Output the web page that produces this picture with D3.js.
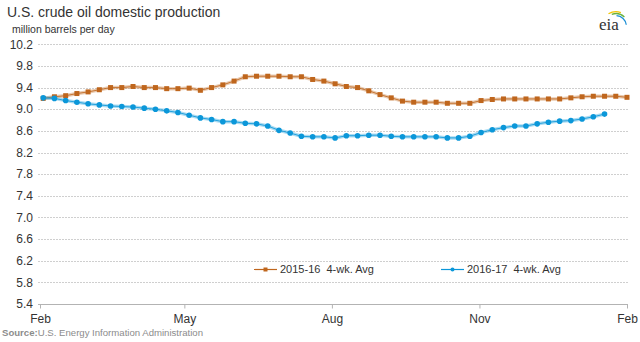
<!DOCTYPE html>
<html>
<head>
<meta charset="utf-8">
<script src="https://cdn.jsdelivr.net/npm/d3@7"></script>
<style>
    html, body { margin: 0; padding: 0; background: #fff; }
    svg { display: block; font-family: "Liberation Sans", Arial, sans-serif; }
</style>
</head>
<body>
<div id="chart"></div>
<script>
// weekly 4-week averages, million barrels per day, first week in early Feb
var prodPrev = [
    9.20, 9.23, 9.25, 9.29, 9.32, 9.36, 9.40, 9.40, 9.42, 9.40,
    9.40, 9.38, 9.38, 9.39, 9.35, 9.40, 9.45, 9.52, 9.60, 9.61,
    9.61, 9.61, 9.60, 9.60, 9.55, 9.52, 9.47, 9.42, 9.40, 9.34,
    9.27, 9.21, 9.15, 9.13, 9.13, 9.13, 9.11, 9.11, 9.11, 9.16,
    9.18, 9.19, 9.19, 9.19, 9.19, 9.19, 9.19, 9.21, 9.23, 9.24,
    9.24, 9.24, 9.22
];
var prodCurr = [
    9.21, 9.20, 9.16, 9.13, 9.10, 9.08, 9.06, 9.05, 9.04, 9.02,
    9.00, 8.97, 8.94, 8.89, 8.84, 8.81, 8.77, 8.77, 8.74, 8.73,
    8.69, 8.61, 8.56, 8.50, 8.49, 8.49, 8.47, 8.51, 8.51, 8.52,
    8.52, 8.50, 8.49, 8.49, 8.49, 8.49, 8.47, 8.47, 8.50, 8.57,
    8.62, 8.66, 8.69, 8.69, 8.73, 8.76, 8.78, 8.79, 8.82, 8.86,
    8.91
];
var seriesNames = ["2015-16  4-wk. Avg", "2016-17  4-wk. Avg"];
var yTicks = [5.4, 5.8, 6.2, 6.6, 7.0, 7.4, 7.8, 8.2, 8.6, 9.0, 9.4, 9.8, 10.2];
var monthTicks = ["2016-02-01", "2016-05-01", "2016-08-01", "2016-11-01", "2017-02-01"];
var firstWeek = "2016-02-03";

var width = 640;
var height = 342;
var color_prev = "#bf661d";
var color_curr = "#0b97d9";

var parseDay = d3.timeParse("%Y-%m-%d");
var weekDate = function (i) {
    return d3.timeDay.offset(parseDay(firstWeek), 7 * i);
}

var x = d3.scaleTime()
    .domain([parseDay(monthTicks[0]), parseDay(monthTicks[monthTicks.length - 1])])
    .range([40, 627]);
var y = d3.scaleLinear()
    .domain([5.4, 10.2])
    .range([304, 44.3]);

var svg = d3.select("#chart").append("svg")
    .attr("width", width)
    .attr("height", height);

// title block
svg.append("text")
    .attr("x", 7)
    .attr("y", 17)
    .attr("font-size", "14px")
    .attr("fill", "#333")
    .text("U.S. crude oil domestic production");
svg.append("text")
    .attr("x", 12)
    .attr("y", 33)
    .attr("font-size", "10.5px")
    .attr("fill", "#333")
    .text("million barrels per day");

// gridlines + y labels
var grid = svg.append("g");
yTicks.forEach(function (t) {
    if (t > 5.4) {
        grid.append("line")
            .attr("x1", 38)
            .attr("x2", 628)
            .attr("y1", Math.round(y(t)) + 0.5)
            .attr("y2", Math.round(y(t)) + 0.5)
            .attr("stroke", "#cfcfcf")
            .attr("stroke-dasharray", "2,1")
            .attr("stroke-width", 1);
    }
    grid.append("text")
        .attr("x", 33)
        .attr("y", y(t))
        .attr("dy", "0.35em")
        .attr("text-anchor", "end")
        .attr("font-size", "12px")
        .attr("fill", "#333")
        .text(t.toFixed(1));
});

// x axis
var xAxis = d3.axisBottom(x)
    .tickValues(monthTicks.map(parseDay))
    .tickFormat(d3.timeFormat("%b"))
    .tickSize(4)
    .tickPadding(6);
var axisG = svg.append("g")
    .attr("transform", "translate(0," + 304.5 + ")")
    .call(xAxis);
axisG.select(".domain").attr("stroke", "#b3b3b3").attr("d", "M38,0H628");
axisG.selectAll(".tick line").attr("stroke", "#b3b3b3");
axisG.selectAll(".tick text")
    .attr("font-size", "12px")
    .attr("fill", "#333")
    .attr("font-family", "Liberation Sans, Arial, sans-serif");

// series
var line = d3.line()
    .x(function (d, i) { return x(weekDate(i)); })
    .y(function (d) { return y(d); });

function drawSeries(values, color, shape) {
    var g = svg.append("g");
    g.append("path")
        .datum(values)
        .attr("d", line)
        .attr("fill", "none")
        .attr("stroke", color)
        .attr("stroke-opacity", 0.35)
        .attr("stroke-width", 3.5);
    g.append("path")
        .datum(values)
        .attr("d", line)
        .attr("fill", "none")
        .attr("stroke", color)
        .attr("stroke-opacity", 0.85)
        .attr("stroke-width", 1);
    if (shape == "square") {
        g.selectAll("rect")
            .data(values)
            .enter().append("rect")
            .attr("x", function (d, i) { return x(weekDate(i)) - 2.5; })
            .attr("y", function (d) { return y(d) - 2.5; })
            .attr("width", 5)
            .attr("height", 5)
            .attr("fill", color);
    } else {
        g.selectAll("circle")
            .data(values)
            .enter().append("circle")
            .attr("cx", function (d, i) { return x(weekDate(i)); })
            .attr("cy", function (d) { return y(d); })
            .attr("r", 2.8)
            .attr("fill", color);
    }
}

drawSeries(prodPrev, color_prev, "square");
drawSeries(prodCurr, color_curr, "circle");

// legend
var legend = [
    { name: seriesNames[0], color: color_prev, shape: "square", x: 254 },
    { name: seriesNames[1], color: color_curr, shape: "circle", x: 441 }
];
var legendY = 269.5;
legend.forEach(function (item) {
    var lg = svg.append("g");
    lg.append("line")
        .attr("x1", item.x)
        .attr("x2", item.x + 23)
        .attr("y1", legendY)
        .attr("y2", legendY)
        .attr("stroke", item.color)
        .attr("stroke-width", 1.2);
    if (item.shape == "square") {
        lg.append("rect")
            .attr("x", item.x + 9.5)
            .attr("y", legendY - 2)
            .attr("width", 4)
            .attr("height", 4)
            .attr("fill", item.color);
    } else {
        lg.append("circle")
            .attr("cx", item.x + 11.5)
            .attr("cy", legendY)
            .attr("r", 2)
            .attr("fill", item.color);
    }
    lg.append("text")
        .attr("x", item.x + 26)
        .attr("y", legendY)
        .attr("dy", "0.35em")
        .attr("font-size", "11px")
        .attr("fill", "#333")
        .style("white-space", "pre")
        .text(item.name);
});

// source line
var src = svg.append("text")
    .attr("x", 2)
    .attr("y", 336)
    .attr("font-size", "9.6px")
    .attr("fill", "#8c8c8c");
src.append("tspan").attr("font-weight", "bold").text("Source:");
src.append("tspan").text("U.S. Energy Information Administration");

// eia mark
var logo = svg.append("g").attr("transform", "translate(616,26)");
var arcs = [
    { color: "#f2c500", r: 15, a0: -0.55, a1: 0.35 },
    { color: "#6ab23e", r: 13, a0: -0.35, a1: 0.75 },
    { color: "#1e90d6", r: 11, a0: 0.05, a1: 1.45 }
];
arcs.forEach(function (a) {
    logo.append("path")
        .attr("d", d3.arc()
            .innerRadius(a.r - 1.3)
            .outerRadius(a.r)
            .startAngle(a.a0)
            .endAngle(a.a1)())
        .attr("fill", a.color);
});
svg.append("text")
    .attr("x", 599)
    .attr("y", 30)
    .attr("font-family", "Liberation Serif, 'DejaVu Serif', serif")
    .attr("font-size", "17px")
    .attr("fill", "#333")
    .text("eia");
</script>
</body>
</html>
